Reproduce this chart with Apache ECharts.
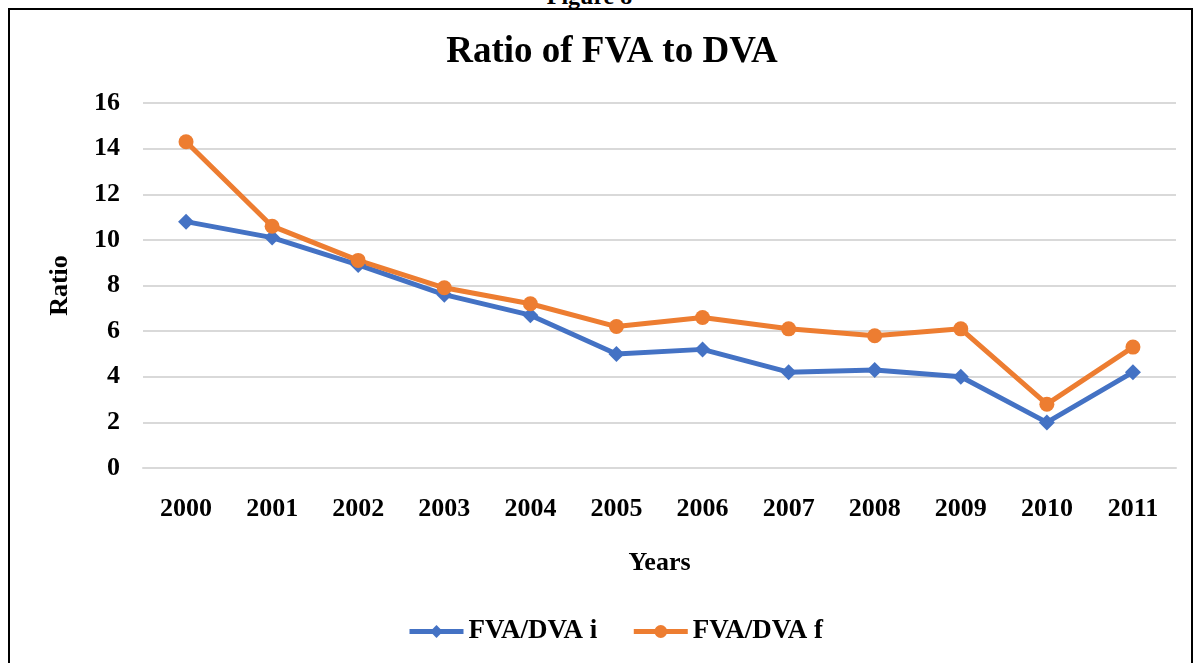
<!DOCTYPE html>
<html>
<head>
<meta charset="utf-8">
<script src="https://cdn.jsdelivr.net/npm/echarts@6/dist/echarts.min.js"></script>
<style>
  html, body { margin: 0; padding: 0; background: #fff; overflow: hidden; }
  #frame { position: absolute; left: 8px; top: 8px; width: 1181px; height: 700px; border: 2px solid #000; }
  #fig { position: absolute; left: 0; width: 1199px; top: -17px; text-align: center; font: bold 24px "Liberation Serif", serif; color: #000; }
  #chart { position: absolute; left: 0; top: 0; width: 1199px; height: 663px; }
</style>
</head>
<body>
<div id="fig"><span style="margin-left:-20px">Figure 8</span></div>
<div id="frame"></div>
<div id="chart"></div>
<script>
// Ratio of FVA to DVA, per year
const years = ['2000', '2001', '2002', '2003', '2004', '2005', '2006', '2007', '2008', '2009', '2010', '2011'];
const ratioI = [10.8, 10.1, 8.9, 7.6, 6.7, 5.0, 5.2, 4.2, 4.3, 4.0, 2.0, 4.2];
const ratioF = [14.3, 10.6, 9.1, 7.9, 7.2, 6.2, 6.6, 6.1, 5.8, 6.1, 2.8, 5.3];
const yTicks = { min: 0, max: 16, step: 2 };

const font = '"Liberation Serif", "Times New Roman", serif';
const myChart = echarts.init(document.getElementById('chart'), null, { renderer: 'canvas' });

const boldText = { fontFamily: font, fontSize: 26, fontWeight: 'bold', color: '#000' };

myChart.setOption({
    animation: false,
    textStyle: { fontFamily: font },
    title: {
        text: 'Ratio of FVA to DVA',
        left: 607,
        top: 29,
        textAlign: 'center',
        textStyle: { fontFamily: font, fontSize: 37, fontWeight: 'bold', color: '#000' }
    },
    legend: {
        bottom: 13,
        left: 402,
        itemWidth: 54,
        itemHeight: 16,
        itemGap: 34,
        lineStyle: { width: 5 },
        textStyle: Object.assign({}, boldText, { fontSize: 27 }),
        data: ['FVA/DVA i', 'FVA/DVA f']
    },
    grid: { left: 143, right: 23, top: 103, bottom: 195, containLabel: false },
    xAxis: {
        type: 'category',
        data: years,
        name: 'Years',
        nameLocation: 'middle',
        nameGap: 82,
        nameTextStyle: boldText,
        axisLine: { show: true, lineStyle: { color: '#d9d9d9', width: 2 } },
        axisTick: { show: false },
        axisLabel: Object.assign({ margin: 28 }, boldText)
    },
    yAxis: {
        type: 'value',
        min: yTicks.min,
        max: yTicks.max,
        interval: yTicks.step,
        name: 'Ratio',
        nameLocation: 'middle',
        nameGap: 70,
        nameRotate: 90,
        nameTextStyle: boldText,
        axisLine: { show: false },
        axisTick: { show: false },
        axisLabel: Object.assign({ margin: 23 }, boldText),
        splitLine: { lineStyle: { color: '#d9d9d9', width: 2 } }
    },
    series: [
        {
            name: 'FVA/DVA i',
            type: 'line',
            data: ratioI,
            symbol: 'diamond',
            symbolSize: 16,
            itemStyle: { color: '#4472C4' },
            lineStyle: { color: '#4472C4', width: 5 }
        },
        {
            name: 'FVA/DVA f',
            type: 'line',
            data: ratioF,
            symbol: 'circle',
            symbolSize: 15,
            itemStyle: { color: '#ED7D31' },
            lineStyle: { color: '#ED7D31', width: 5 }
        }
    ]
});
</script>
</body>
</html>
